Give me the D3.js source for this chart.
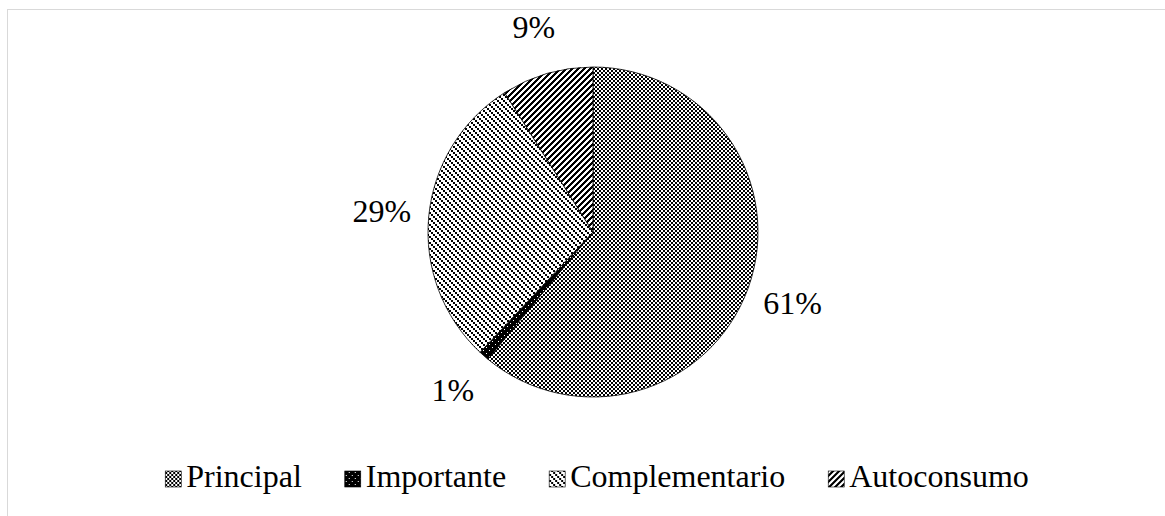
<!DOCTYPE html>
<html><head><meta charset="utf-8">
<script src="https://cdn.jsdelivr.net/npm/d3@7"></script>
<style>body{margin:0;background:#fff;} svg{display:block;} text{font-family:"Liberation Serif","Times New Roman",Times,serif;}</style>
</head><body>
<svg id="c" width="1165" height="516"></svg>
<script>
const categories = ["Principal", "Importante", "Complementario", "Autoconsumo"];
const values = [61, 1, 29, 9];
const labels = ["61%", "1%", "29%", "9%"];
const patternIds = ["pPrincipal", "pImportante", "pComplementario", "pAutoconsumo"];

const W = 1165, H = 516;
const svg = d3.select("#c");
const defs = svg.append("defs");

function makePattern(id, size, isInk, bg) {
  const ink = bg === "#fff" ? "#000" : "#fff";
  const p = defs.append("pattern").attr("id", id).attr("patternUnits", "userSpaceOnUse")
    .attr("width", size).attr("height", size);
  p.append("rect").attr("width", size).attr("height", size).attr("fill", bg);
  for (let y = 0; y < size; y++) for (let x = 0; x < size; x++) {
    if (isInk(x, y)) p.append("rect").attr("x", x).attr("y", y).attr("width", 1).attr("height", 1)
      .attr("fill", ink).attr("shape-rendering", "crispEdges");
  }
}
makePattern("pPrincipal", 4, (x, y) => (Math.floor(x / 2) + Math.floor(y / 2)) % 2 === 0, "#fff");
makePattern("pImportante", 6, (x, y) => (x === 1 && y === 1) || (x === 4 && y === 4), "#000");
makePattern("pComplementario", 6, (x, y) => Math.floor(x / 2) === Math.floor(y / 2), "#fff");
makePattern("pAutoconsumo", 6, (x, y) => ((x + y) % 6) < 3, "#fff");

// chart border
svg.append("rect").attr("x", 7.5).attr("y", 9.5).attr("width", W + 20).attr("height", H + 20)
  .attr("fill", "none").attr("stroke", "#d9d9d9").attr("stroke-width", 1);

const cx = 593, cy = 232, R = 165, LR = 212;
const pie = d3.pie().sort(null).value(d => d)(values);
const arc = d3.arc().innerRadius(0).outerRadius(R);
const labelArc = d3.arc().innerRadius(LR).outerRadius(LR);
const g = svg.append("g").attr("transform", `translate(${cx},${cy})`);
g.selectAll("path.s").data(pie).join("path").attr("class", "s")
  .attr("d", arc)
  .attr("fill", (d, i) => `url(#${patternIds[i]})`)
  .attr("stroke", "#000").attr("stroke-width", 0.8);

g.selectAll("text.l").data(pie).join("text").attr("class", "l")
  .attr("transform", d => { const c = labelArc.centroid(d); return `translate(${c[0]},${c[1] + 10})`; })
  .attr("text-anchor", "middle")
  .style("font-size", "32px").attr("fill", "#000")
  .text((d, i) => labels[i]);

// legend
const legend = svg.append("g");
const icon = 16, gapIT = 5, gapItem = 43, lBase = 487;
const items = legend.selectAll("g").data(categories).join("g");
items.append("rect").attr("width", icon).attr("height", icon).attr("y", lBase - icon)
  .attr("fill", (d, i) => `url(#${patternIds[i]})`).attr("stroke", "#000").attr("stroke-width", 0.6);
const texts = items.append("text").attr("x", icon + gapIT).attr("y", lBase)
  .style("font-size", "32px").attr("fill", "#000").text(d => d);
let widths = [];
texts.each(function () { widths.push(this.getComputedTextLength()); });
const total = d3.sum(widths) + categories.length * (icon + gapIT) + (categories.length - 1) * gapItem;
let x0 = 597 - total / 2;
items.attr("transform", (d, i) => {
  const t = `translate(${x0},0)`;
  x0 += icon + gapIT + widths[i] + gapItem;
  return t;
});
</script>
</body></html>
